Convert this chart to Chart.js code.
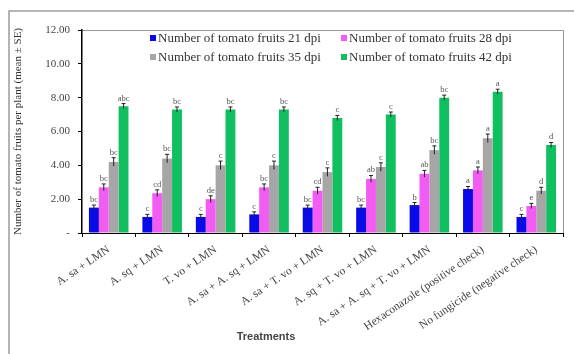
<!DOCTYPE html>
<html>
<head>
  <title>Tomato fruits</title>
  <script src="https://cdn.jsdelivr.net/npm/chart.js"></script>
  <style>
    body { margin: 0; background: #fff; }
  </style>
</head>
<body>
  <canvas id="fruitChart" width="574" height="354"></canvas>

  <script>
    var treatments = ['A. sa + LMN', 'A. sq + LMN', 'T. vo + LMN', 'A. sa + A. sq + LMN',
      'A. sa + T. vo + LMN', 'A. sq + T. vo + LMN', 'A. sa + A. sq + T. vo + LMN',
      'Hexaconazole (positive check)', 'No fungicide (negative check)'];
    var seriesNames = ['Number of tomato fruits 21 dpi', 'Number of tomato fruits 28 dpi',
      'Number of tomato fruits 35 dpi', 'Number of tomato fruits 42 dpi'];

    var dpi21 = [1.5, 0.95, 0.95, 1.1, 1.5, 1.5, 1.65, 2.6, 0.95];
    var dpi28 = [2.7, 2.35, 2.0, 2.7, 2.5, 3.2, 3.5, 3.7, 1.6];
    var dpi35 = [4.2, 4.4, 4.0, 4.0, 3.6, 3.9, 4.9, 5.6, 2.5];
    var dpi42 = [7.5, 7.3, 7.3, 7.3, 6.8, 7.0, 8.0, 8.35, 5.2];

    var err21 = [0.15, 0.15, 0.15, 0.15, 0.15, 0.15, 0.15, 0.15, 0.15];
    var err28 = [0.2, 0.2, 0.2, 0.2, 0.2, 0.2, 0.2, 0.2, 0.15];
    var err35 = [0.25, 0.25, 0.25, 0.25, 0.25, 0.25, 0.25, 0.25, 0.2];
    var err42 = [0.15, 0.15, 0.15, 0.15, 0.15, 0.15, 0.15, 0.15, 0.15];

    var letters21 = ['bc', 'c', 'c', 'c', 'bc', 'bc', 'b', 'a', 'c'];
    var letters28 = ['bc', 'cd', 'de', 'bc', 'cd', 'ab', 'ab', 'a', 'e'];
    var letters35 = ['bc', 'bc', 'c', 'c', 'c', 'c', 'bc', 'a', 'd'];
    var letters42 = ['abc', 'bc', 'bc', 'bc', 'c', 'c', 'bc', 'a', 'd'];

    var colors = ['#0a0ae6', '#f25cf2', '#a6a6a6', '#10c060'];
    var errors = [err21, err28, err35, err42];
    var letters = [letters21, letters28, letters35, letters42];

    // outer frame, plot border, error bars, letters, legend, x title
    var extras = {
      id: 'extras',
      beforeDraw: function(chart) {
        var c = chart.ctx;
        c.save();
        c.strokeStyle = '#b4b4b4';
        c.lineWidth = 2;
        c.beginPath();
        c.moveTo(9, 354);
        c.lineTo(9, 11);
        c.lineTo(574, 11);
        c.stroke();
        var a = chart.chartArea;
        c.strokeStyle = '#999';
        c.lineWidth = 1;
        c.beginPath();
        c.moveTo(a.left, a.top + 0.5);
        c.lineTo(a.right + 0.5, a.top + 0.5);
        c.lineTo(a.right + 0.5, a.bottom);
        c.stroke();
        c.restore();
      },
      afterDatasetsDraw: function(chart) {
        var c = chart.ctx;
        var y = chart.scales.y;
        c.save();
        chart.data.datasets.forEach(function(ds, d) {
          var meta = chart.getDatasetMeta(d);
          meta.data.forEach(function(bar, i) {
            var v = ds.data[i];
            var e = errors[d][i];
            var top = y.getPixelForValue(v + e);
            var bot = y.getPixelForValue(v - e);
            c.strokeStyle = '#222';
            c.lineWidth = 1;
            c.beginPath();
            c.moveTo(bar.x, top);
            c.lineTo(bar.x, bot);
            c.moveTo(bar.x - 2, top);
            c.lineTo(bar.x + 2, top);
            c.stroke();
            c.fillStyle = '#555';
            c.font = '8.5px "Liberation Serif"';
            c.textAlign = 'center';
            c.textBaseline = 'bottom';
            c.fillText(letters[d][i], bar.x, top - 1);
          });
        });
        c.restore();
      },
      afterDraw: function(chart) {
        var c = chart.ctx;
        c.save();
        // legend, two columns inside the plot
        var cols = [153, 344];
        var rows = [38, 57];
        c.font = '13px "Liberation Serif"';
        c.textBaseline = 'middle';
        c.textAlign = 'left';
        chart.data.datasets.forEach(function(ds, d) {
          var lx = cols[d % 2];
          var ly = rows[Math.floor(d / 2)];
          c.fillStyle = ds.backgroundColor;
          c.fillRect(lx - 3, ly - 3, 6, 6);
          c.fillStyle = '#333';
          c.fillText(ds.label, lx + 5, ly + 1);
        });
        c.fillStyle = '#444';
        c.font = 'bold 11px "Liberation Sans"';
        c.textAlign = 'center';
        c.fillText('Treatments', 266, 337);
        c.restore();
      }
    };

    var ctx = document.getElementById('fruitChart').getContext('2d');
    var fruitChart = new Chart(ctx, {
      type: 'bar',
      data: {
        labels: treatments,
        datasets: [
          { label: seriesNames[0], data: dpi21, backgroundColor: colors[0] },
          { label: seriesNames[1], data: dpi28, backgroundColor: colors[1] },
          { label: seriesNames[2], data: dpi35, backgroundColor: colors[2] },
          { label: seriesNames[3], data: dpi42, backgroundColor: colors[3] }
        ]
      },
      options: {
        responsive: false,
        animation: false,
        layout: { padding: { left: 10, top: 30, right: 11, bottom: 0 } },
        datasets: { bar: { categoryPercentage: 0.74, barPercentage: 1.0 } },
        plugins: {
          tooltip: { enabled: false },
          legend: { display: false }
        },
        scales: {
          x: {
            afterFit: function(s) { s.height = 121; },
            grid: { display: true, drawOnChartArea: false, offset: true, tickLength: 4, color: '#000' },
            border: { color: '#000', width: 1 },
            ticks: {
              minRotation: 34,
              maxRotation: 34,
              color: '#444',
              padding: 6,
              font: { family: '"Liberation Serif"', size: 11.5 }
            }
          },
          y: {
            min: 0,
            max: 12,
            afterFit: function(s) { s.width = 72; },
            grid: { display: true, drawOnChartArea: false, tickLength: 4, color: '#000' },
            border: { color: '#000', width: 1.5 },
            ticks: {
              stepSize: 2,
              padding: 8,
              color: '#444',
              font: { family: '"Liberation Serif"', size: 11 },
              callback: function(v) { return v === 0 ? '-' : v.toFixed(2); }
            },
            title: {
              display: true,
              text: 'Number of tomato fruits per plant (mean \u00b1 SE)',
              color: '#333',
              padding: 2,
              font: { family: '"Liberation Serif"', size: 11 }
            }
          }
        }
      },
      plugins: [extras]
    });
  </script>
</body>
</html>
